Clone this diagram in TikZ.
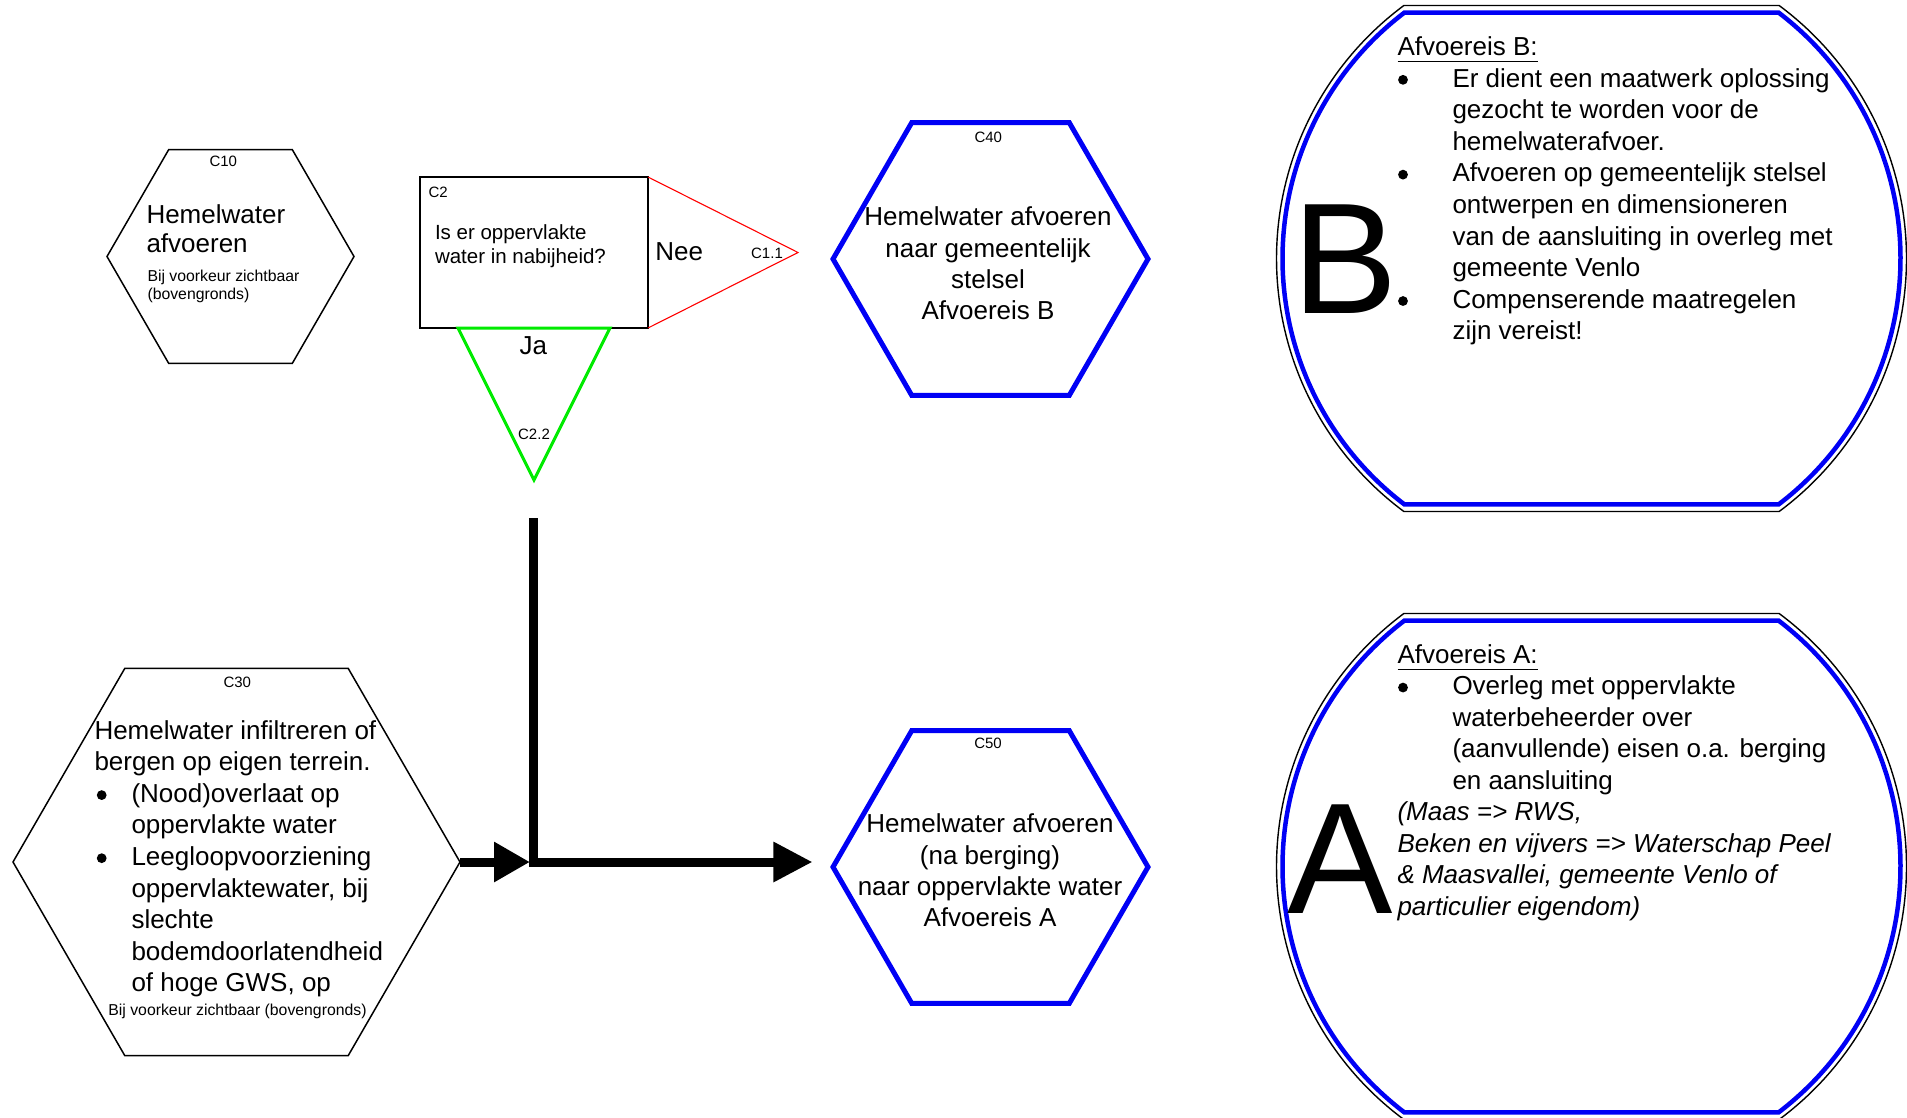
\documentclass[tikz,border=0pt]{standalone}
\usepackage{fontspec}
\setmainfont{Liberation Sans}
\usetikzlibrary{shapes.geometric,arrows.meta,calc}
\definecolor{hexblue}{RGB}{0,0,245}
\definecolor{jagreen}{RGB}{0,235,0}
\definecolor{neered}{RGB}{255,0,0}
\newcommand\myul[1]{\setbox0=\hbox{#1}\rlap{\rule[-6.7pt]{\wd0}{1.4pt}}\box0}
\newcommand\bulletdot{\tikz[baseline=0pt]{\fill[black] (4.9pt,7.3pt) circle[radius=4.9pt];}}
\newcommand\bul[2]{\makebox[#1][l]{\hspace{#2}\bulletdot}}
\newcommand\truncirc[4]{\draw[#4] ($(#1)+({180+#3}:#2)$) -- ($(#1)+({-#3}:#2)$) arc[start angle={-#3}, end angle={#3}, radius=#2] -- ($(#1)+({180-#3}:#2)$) arc[start angle={180-#3}, end angle={180+#3}, radius=#2] -- cycle;}
\begin{document}
\begin{tikzpicture}[x=1pt,y=-1pt,
  hexa/.style={regular polygon, regular polygon sides=6, inner sep=0pt, outer sep=0pt},
  thinhex/.style={hexa, draw=black, line width=1.5pt},
  bluehex/.style={hexa, draw=hexblue, line width=5pt},
  lbl/.style={inner sep=0pt, outer sep=0pt, anchor=base, font=\fontsize{15}{18}\selectfont},
  big/.style={inner sep=0pt, outer sep=0pt, anchor=base, font=\fontsize{26}{31.5}\selectfont},
  txt/.style={inner sep=0pt, outer sep=0pt},
  small/.style={inner sep=0pt, outer sep=0pt, font=\fontsize{15.8}{18}\selectfont},
  flow/.style={line width=9pt, black, line join=miter},
  giant/.style={inner sep=0pt, outer sep=0pt, anchor=base west, font=\fontsize{158}{160}\selectfont}]
\fill[white] (0,0) rectangle (1907,1117);
\useasboundingbox (0,0) rectangle (1907,1117);

% hexagons
\node[thinhex, minimum size=247pt] (c10) at (230.5,256.5) {};
\node[bluehex, minimum size=315pt] (c40) at (990.5,259) {};
\node[bluehex, minimum size=315pt] (c50) at (990.5,867) {};
\node[thinhex, minimum size=447pt] (c30) at (236.5,862) {};

% question box and answer triangles
\node[draw, line width=2pt, minimum width=228pt, minimum height=151pt, inner sep=0pt, outer sep=0pt] (c2) at (534,252.5) {};
\coordinate (c11) at (798,252.5);
\coordinate (c22) at (534,480);
\draw[neered, line width=1.1pt] (c2.north east) -- (c11) -- (c2.south east);
\draw[jagreen, line width=3pt, line join=miter] ($(c2.south)+(-76,0)$) -- (c22) -- ($(c2.south)+(76,0)$) -- cycle;

% connectors
\coordinate (junc) at (533,862);
\coordinate (jtop) at (533,518);
\draw[flow, -{Triangle[length=36pt,width=38pt]}, shorten >=3pt] (c30.east) -- (junc);
\draw[flow, -{Triangle[length=39pt,width=38pt]}, shorten >=20.5pt] (jtop) -- (junc) -- (junc -| c50.west);

% truncated circles
\coordinate (cb) at (1591.5,258.5);
\coordinate (ca) at (1591.5,866.5);
\truncirc{cb}{315}{53.44}{black, line width=1.4pt}
\truncirc{cb}{309}{52.70}{hexblue, line width=4.5pt}
\truncirc{ca}{315}{53.44}{black, line width=1.4pt}
\truncirc{ca}{309}{52.70}{hexblue, line width=4.5pt}

% labels
\node[lbl] (l10) at (223.3,166) {C10};
\node[lbl] (l40) at (988.3,142.7) {C40};
\node[lbl] (l50) at (988,748.3) {C50};
\node[lbl] (l30) at (237.3,687.3) {C30};
\node[lbl, anchor=base west] (l2) at (428.5,197.3) {C2};
\node[lbl] (l11) at (767,258.3) {C1.1};
\node[lbl] (l22) at (534,439.3) {C2.2};
\node[big] (nee) at (679.3,260) {Nee};
\node[big] (ja) at (533.3,354) {Ja};

% texts
\node[txt, font=\fontsize{26}{29.4}\selectfont, anchor=north west, align=left] (t10) at (146.5,202.7) {\strut Hemelwater\\afvoeren};
\node[small, anchor=north west, align=left] (s10) at (147.5,268.4) {\strut Bij voorkeur zichtbaar\\(bovengronds)};
\node[txt, font=\fontsize{20.5}{24.7}\selectfont, anchor=north west, align=left] (q2) at (435,222) {\strut Is er oppervlakte\\water in nabijheid?};
\node[txt, font=\fontsize{26}{31.4}\selectfont, anchor=north, align=center] (t40) at (988,203.7) {\strut Hemelwater afvoeren\\naar gemeentelijk\\stelsel\\Afvoereis B};
\node[txt, font=\fontsize{26}{31.4}\selectfont, anchor=north, align=center] (t50) at (990,810.7) {\strut Hemelwater afvoeren\\(na berging)\\naar oppervlakte water\\Afvoereis A};
\node[txt, font=\fontsize{26}{31.55}\selectfont, anchor=north west, align=left] (t30) at (94.5,717.2) {\strut Hemelwater infiltreren of\\bergen op eigen terrein.\\\bul{37pt}{2.3pt}(Nood)overlaat op\\\hspace*{37pt}oppervlakte water\\\bul{37pt}{2.3pt}Leegloopvoorziening\\\hspace*{37pt}oppervlaktewater, bij\\\hspace*{37pt}slechte\\\hspace*{37pt}bodemdoorlatendheid\\\hspace*{37pt}of hoge GWS, op};
\node[small, anchor=base] (s30) at (237.5,1015) {Bij voorkeur zichtbaar (bovengronds)};

\node[giant] (bigb) at (1292,313) {B};
\node[giant] (biga) at (1287,913) {A};
\node[txt, font=\fontsize{26}{31.6}\selectfont, anchor=north west, align=left] (tb) at (1397.5,33.4) {\strut\myul{Afvoereis B:}\\\bul{55pt}{0.6pt}Er dient een maatwerk oplossing\\\hspace*{55pt}gezocht te worden voor de\\\hspace*{55pt}hemelwaterafvoer.\\\bul{55pt}{0.6pt}Afvoeren op gemeentelijk stelsel\\\hspace*{55pt}ontwerpen en dimensioneren\\\hspace*{55pt}van de aansluiting in overleg met\\\hspace*{55pt}gemeente Venlo\\\bul{55pt}{0.6pt}Compenserende maatregelen\\\hspace*{55pt}zijn vereist!};
\node[txt, font=\fontsize{26}{31.5}\selectfont, anchor=north west, align=left] (ta) at (1397.5,641.3) {\strut\myul{Afvoereis A:}\\\bul{55pt}{0.6pt}Overleg met oppervlakte\\\hspace*{55pt}waterbeheerder over\\\hspace*{55pt}(aanvullende) eisen o.a. berging\\\hspace*{55pt}en aansluiting\\\textit{(Maas => RWS,}\\\textit{Beken en vijvers => Waterschap Peel}\\\textit{\& Maasvallei, gemeente Venlo of}\\\textit{particulier eigendom)}};
\end{tikzpicture}
\end{document}
